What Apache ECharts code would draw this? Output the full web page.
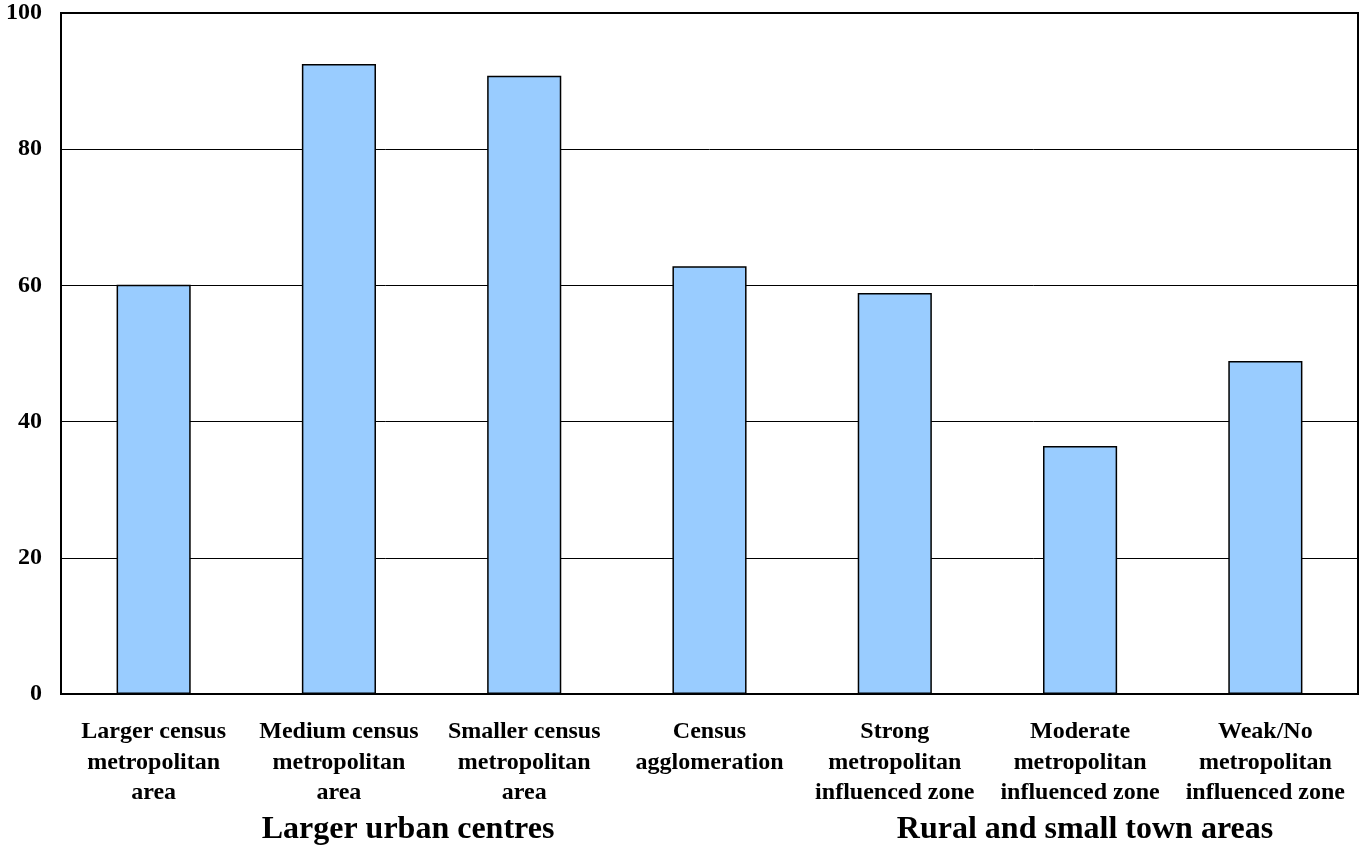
<!DOCTYPE html>
<html>
<head>
<meta charset="utf-8">
<script src="https://cdn.jsdelivr.net/npm/echarts@6/dist/echarts.min.js"></script>
<style>
  html, body { margin: 0; padding: 0; background: #fff; }
  #chart { width: 1363px; height: 847px; }
</style>
</head>
<body>
<div id="chart"></div>
<script>
// Region types (x axis) and their values
const categories = [
  'Larger census\nmetropolitan\narea',
  'Medium census\nmetropolitan\narea',
  'Smaller census\nmetropolitan\narea',
  'Census\nagglomeration',
  'Strong\nmetropolitan\ninfluenced zone',
  'Moderate\nmetropolitan\ninfluenced zone',
  'Weak/No\nmetropolitan\ninfluenced zone'
];
const values = [60.1, 92.5, 90.8, 62.8, 58.9, 36.4, 48.9];
const groupLabels = ['Larger urban centres', 'Rural and small town areas'];

const FONT = '"Liberation Serif", "Times New Roman", serif';

const chart = echarts.init(document.getElementById('chart'));
chart.setOption({
  animation: false,
  grid: {
    left: 61, right: 5, top: 13, bottom: 153,
    show: true, borderColor: '#000', borderWidth: 2, backgroundColor: '#fff'
  },
  xAxis: {
    type: 'category',
    data: categories,
    axisLine: { lineStyle: { color: '#000', width: 2 } },
    axisTick: { show: false },
    axisLabel: {
      interval: 0, color: '#000', fontFamily: FONT, fontWeight: 'bold',
      fontSize: 24, lineHeight: 30.5, margin: 23
    }
  },
  yAxis: {
    type: 'value', min: 0, max: 100, interval: 20,
    axisLine: { show: true, lineStyle: { color: '#000', width: 2 } },
    axisTick: { show: true, inside: true, length: 6, lineStyle: { color: '#000' } },
    splitLine: { lineStyle: { color: '#000', width: 1 } },
    axisLabel: {
      color: '#000', fontFamily: FONT, fontWeight: 'bold', fontSize: 24, margin: 19
    }
  },
  series: [{
    type: 'bar',
    data: values,
    barWidth: '40%',
    itemStyle: { color: '#99CCFF', borderColor: '#000', borderWidth: 1.5 }
  }],
  graphic: [
    {
      type: 'text', x: 408, y: 830,
      style: {
        text: groupLabels[0], fill: '#000', font: 'bold 32px ' + FONT,
        textAlign: 'center', textVerticalAlign: 'middle'
      }
    },
    {
      type: 'text', x: 1085, y: 830,
      style: {
        text: groupLabels[1], fill: '#000', font: 'bold 32px ' + FONT,
        textAlign: 'center', textVerticalAlign: 'middle'
      }
    }
  ]
});
</script>
</body>
</html>
